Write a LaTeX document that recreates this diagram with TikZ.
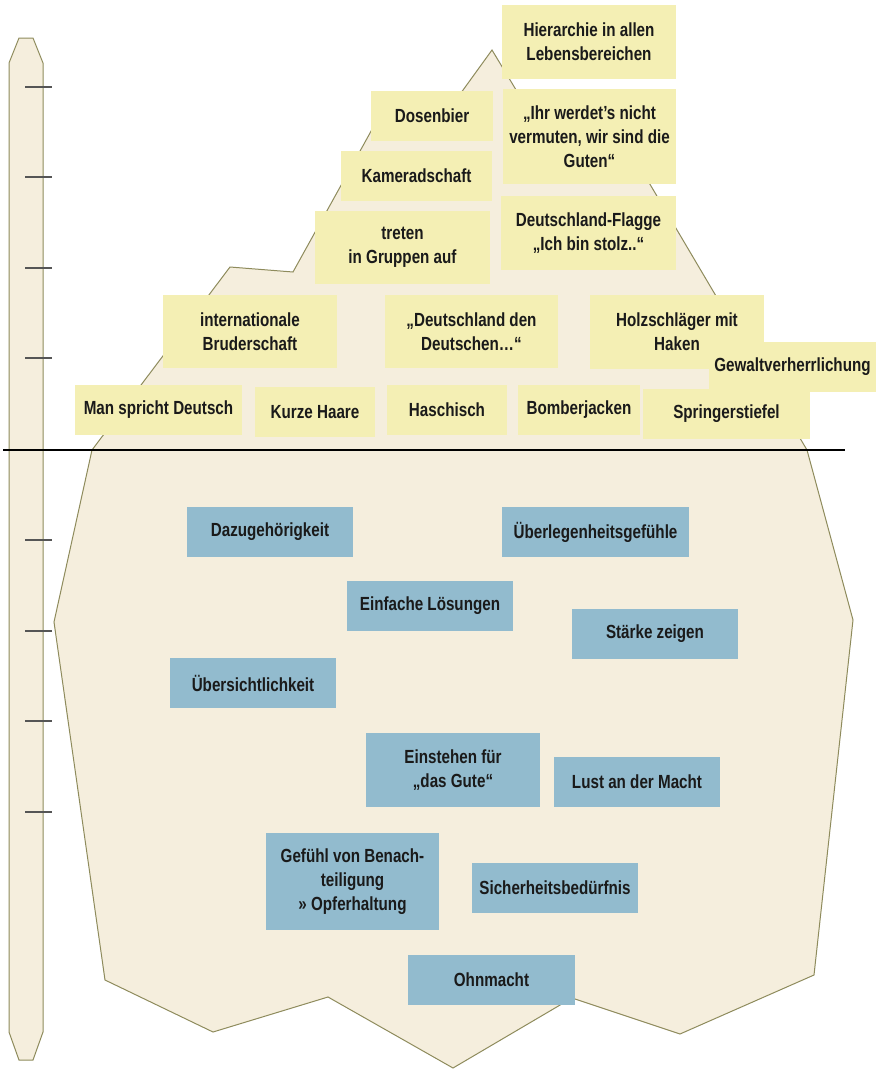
\documentclass[tikz,border=0pt]{standalone}
\usepackage{fontspec}
\setmainfont{Liberation Sans}[FakeStretch=0.8]
\usepackage{tikz}

\definecolor{icefill}{HTML}{F5EEDD}
\definecolor{iceline}{HTML}{8E8B5C}
\definecolor{visible}{HTML}{F4EFB4}
\definecolor{hidden}{HTML}{92BBCE}
\definecolor{tickgray}{HTML}{555555}
\definecolor{label}{HTML}{1A1A1A}

\begin{document}
\begin{tikzpicture}[x=1pt, y=-1pt, line width=1pt,
    box/.style={inner sep=0pt, align=center, text=label,
      font=\fontsize{19}{24}\selectfont\bfseries},
    ybox/.style={box, fill=visible},
    bbox/.style={box, fill=hidden}]
    \useasboundingbox (0, 0) rectangle (876, 1069);

    % draw iceberg
    \filldraw[fill=icefill, draw=iceline]
      (92, 450) -- (230, 267) -- (293, 272) -- (380, 115) -- (445, 115)
        -- (492, 50) -- (533, 118) -- (612, 120) -- (807, 450)
        -- (853, 620) -- (814, 975) -- (680, 1034) -- (572, 998)
        -- (453, 1068) -- (328, 997) -- (213, 1032) -- (105, 980)
        -- (54, 622) -- cycle;

    % draw depth ruler
    \filldraw[fill=icefill, draw=iceline]
      (19, 38) -- (33, 38) -- (43, 63) -- (43, 1032) -- (33, 1060)
        -- (19, 1060) -- (9, 1032) -- (9, 63) -- cycle;
    \foreach \y in {87, 177, 268, 358, 540, 631, 721, 812}
      \draw[color=tickgray, line width=1.3pt] (25, \y) -- (52, \y);

    % draw tip of the iceberg
    \node[ybox, minimum width=174, minimum height=74] (hierarchie) at (589, 42)
      {Hierarchie in allen\\Lebensbereichen};
    \node[ybox, minimum width=122, minimum height=50] (dosenbier) at (432, 116)
      {Dosenbier};
    \node[ybox, minimum width=173, minimum height=95] (guten) at (589.5, 136.5)
      {„Ihr werdet’s nicht\\vermuten, wir sind die\\Guten“};
    \node[ybox, minimum width=151, minimum height=50] (kameradschaft) at (416.5, 176)
      {Kameradschaft};
    \node[ybox, minimum width=175, minimum height=73] (gruppen) at (402.5, 247.5)
      {treten\\in Gruppen auf};
    \node[ybox, minimum width=175, minimum height=74] (flagge) at (588.5, 233)
      {Deutschland-Flagge\\„Ich bin stolz..“};
    \node[ybox, minimum width=174, minimum height=73] (bruderschaft) at (250, 331.5)
      {internationale\\Bruderschaft};
    \node[ybox, minimum width=173, minimum height=73] (deutschen) at (471.5, 331.5)
      {„Deutschland den\\Deutschen…“};
    \node[ybox, minimum width=174, minimum height=74] (holzschlaeger) at (677, 332)
      {Holzschläger mit\\Haken};
    \node[ybox, minimum width=167, minimum height=50] (gewalt) at (792.5, 367)
      {Gewaltverherrlichung};
    \node[ybox, minimum width=167, minimum height=50] (deutsch) at (158.5, 410)
      {Man spricht Deutsch};
    \node[ybox, minimum width=120, minimum height=50] (haare) at (315, 412)
      {Kurze Haare};
    \node[ybox, minimum width=120, minimum height=50] (haschisch) at (447, 410)
      {Haschisch};
    \node[ybox, minimum width=122, minimum height=50] (bomberjacken) at (579, 410)
      {Bomberjacken};
    \node[ybox, minimum width=167, minimum height=50] (springerstiefel) at (726.5, 414)
      {Springerstiefel};

    % draw part below the surface
    \node[bbox, minimum width=166, minimum height=50] (dazugehoerigkeit) at (270, 532)
      {Dazugehörigkeit};
    \node[bbox, minimum width=187, minimum height=50] (ueberlegenheit) at (595.5, 532)
      {Überlegenheitsgefühle};
    \node[bbox, minimum width=166, minimum height=50] (loesungen) at (430, 606)
      {Einfache Lösungen};
    \node[bbox, minimum width=166, minimum height=50] (staerke) at (655, 634)
      {Stärke zeigen};
    \node[bbox, minimum width=166, minimum height=50] (uebersicht) at (253, 683)
      {Übersichtlichkeit};
    \node[bbox, minimum width=174, minimum height=74] (gute) at (453, 770)
      {Einstehen für\\„das Gute“};
    \node[bbox, minimum width=166, minimum height=50] (macht) at (637, 782)
      {Lust an der Macht};
    \node[bbox, minimum width=173, minimum height=97] (opfer) at (352.5, 881.5)
      {Gefühl von Benach-\\teiligung\\» Opferhaltung};
    \node[bbox, minimum width=166, minimum height=50] (sicherheit) at (555, 888)
      {Sicherheitsbedürfnis};
    \node[bbox, minimum width=167, minimum height=50] (ohnmacht) at (491.5, 980)
      {Ohnmacht};

    % draw water line
    \draw[color=black, line width=1.6pt] (3, 450) -- (845, 450);
\end{tikzpicture}
\end{document}
